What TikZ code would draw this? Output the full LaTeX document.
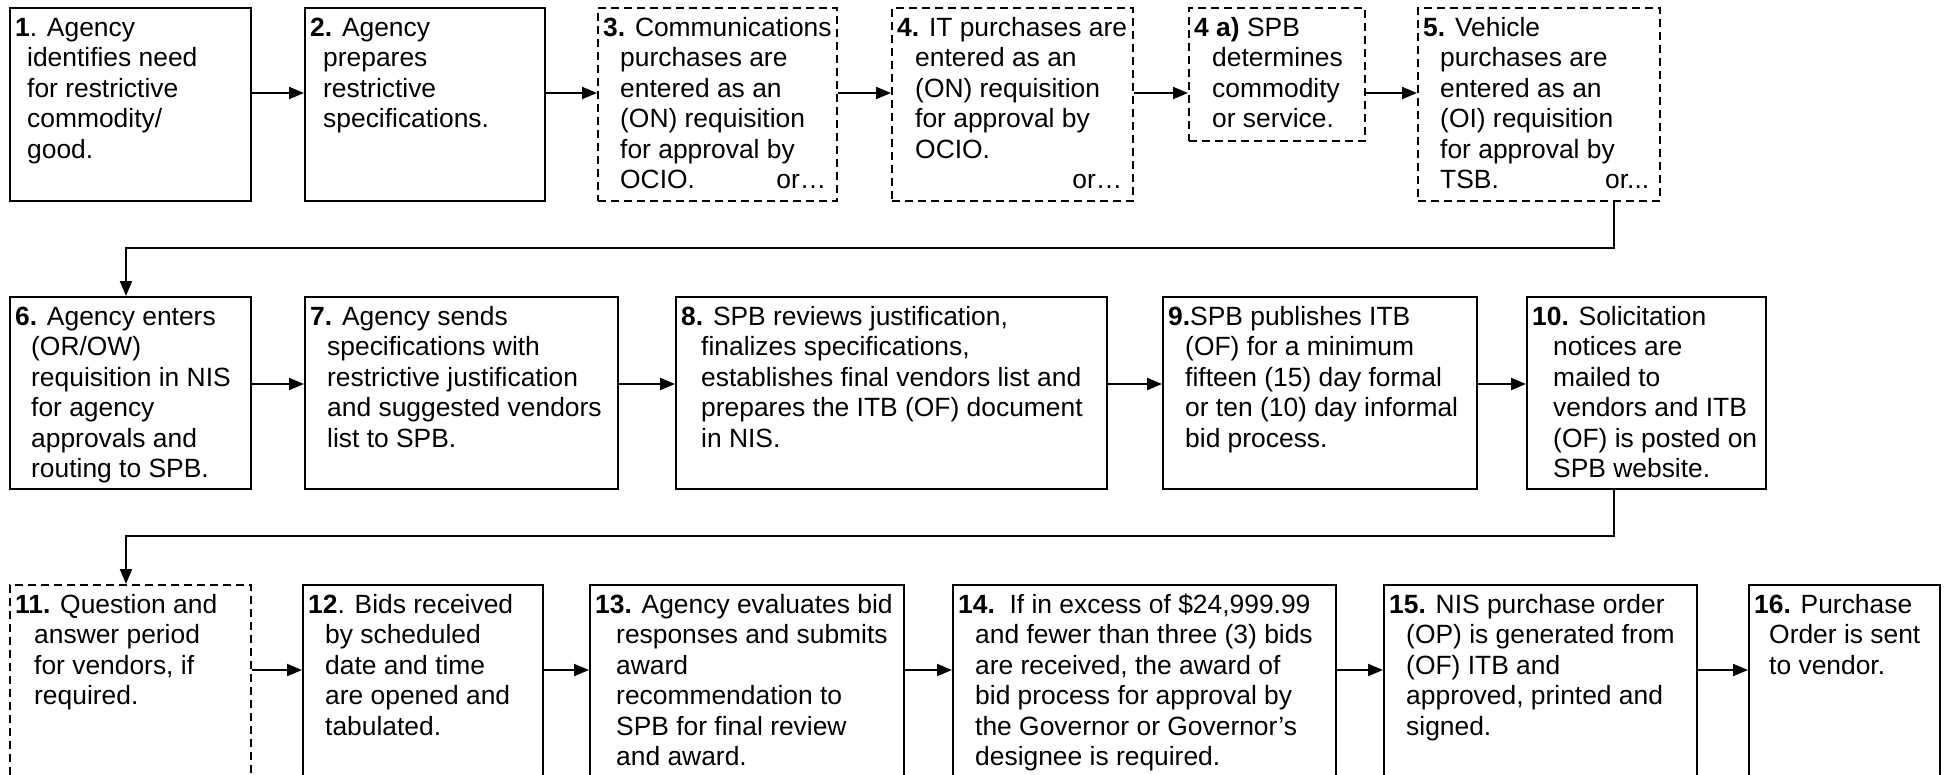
\documentclass[tikz,border=0pt]{standalone}
\usepackage{fontspec}
\setmainfont{Liberation Sans}
\usetikzlibrary{arrows.meta}
\tikzset{
  boxbase/.style={draw=black,line width=2.4pt,inner sep=0pt,fill=none},
  solidbox/.style={},
  dashbox/.style={line width=2pt,dash pattern=on 8pt off 5pt},
  txt/.style={inner sep=0pt,align=left,font=\fontsize{26.4}{30.5}\selectfont},
  arr/.style={line width=2pt,-{Triangle[length=15pt,width=12pt]}},
}
\newcommand\stepbox[8]{%
  \pgfmathsetmacro\bw{#4-#2}\pgfmathsetmacro\bh{#5-#3}\pgfmathsetmacro\tw{#4-#2-16}%
  \def\indw{#8}%
  \node[boxbase,#6,minimum width=\bw pt,minimum height=\bh pt,anchor=north west] (#1) at (#2,#3) {};
  \node[txt,anchor=north west] (#1t) at (#2+6,#3+7) {\rule{0pt}{22pt}#7};
}
\newcommand\ii{\hspace*{\indw pt}}
\newcommand\orline[1]{\ii\makebox[\dimexpr\tw pt-\indw pt\relax][s]{#1}}
\begin{document}
\begin{tikzpicture}[x=1pt,y=-1pt]
\clip (0,0) rectangle (1948,774);
% row 1
\stepbox{n1}{9}{7}{250}{200}{solidbox}{\textbf{1}. Agency\\\ii identifies need\\\ii for restrictive\\\ii commodity/\\\ii good.}{12}
\stepbox{n2}{304}{7}{544}{200}{solidbox}{\textbf{2.} Agency\\\ii prepares\\\ii restrictive\\\ii specifications.}{13}
\stepbox{n3}{597}{7}{836}{200}{dashbox}{\textbf{3.} Communications\\\ii purchases are\\\ii entered as an\\\ii (ON) requisition\\\ii for approval by\\\orline{OCIO.\hfill or…}}{17}
\stepbox{n4}{891}{7}{1132}{200}{dashbox}{\textbf{4.} IT purchases are\\\ii entered as an\\\ii (ON) requisition\\\ii for approval by\\\ii OCIO.\\\orline{\hfill or…}}{18}
\stepbox{n4a}{1188}{7}{1364}{140}{dashbox}{\textbf{4 a)} SPB\\\ii determines\\\ii commodity\\\ii or service.}{18}
\stepbox{n5}{1417}{7}{1659}{200}{dashbox}{\textbf{5.} Vehicle\\\ii purchases are\\\ii entered as an\\\ii (OI) requisition\\\ii for approval by\\\orline{TSB.\hfill or...}}{17}
% row 2
\stepbox{n6}{9}{296}{250}{488}{solidbox}{\textbf{6.} Agency enters\\\ii (OR/OW)\\\ii requisition in NIS\\\ii for agency\\\ii approvals and\\\ii routing to SPB.}{16}
\stepbox{n7}{304}{296}{617}{488}{solidbox}{\textbf{7.} Agency sends\\\ii specifications with\\\ii restrictive justification\\\ii and suggested vendors\\\ii list to SPB.}{17}
\stepbox{n8}{675}{296}{1106}{488}{solidbox}{\textbf{8.} SPB reviews justification,\\\ii finalizes specifications,\\\ii establishes final vendors list and\\\ii prepares the ITB (OF) document\\\ii in NIS.}{20}
\stepbox{n9}{1162}{296}{1476}{488}{solidbox}{\textbf{9.}SPB publishes ITB\\\ii (OF) for a minimum\\\ii fifteen (15) day formal\\\ii or ten (10) day informal\\\ii bid process.}{17}
\stepbox{n10}{1526}{296}{1765}{488}{solidbox}{\textbf{10.} Solicitation\\\ii notices are\\\ii mailed to\\\ii vendors and ITB\\\ii (OF) is posted on\\\ii SPB website.}{21}
% row 3
\stepbox{n11}{9}{584}{250}{778}{dashbox}{\textbf{11.} Question and\\\ii answer period\\\ii for vendors, if\\\ii required.}{19}
\stepbox{n12}{302}{584}{542}{778}{solidbox}{\textbf{12}. Bids received\\\ii by scheduled\\\ii date and time\\\ii are opened and\\\ii tabulated.}{17}
\stepbox{n13}{589}{584}{903}{778}{solidbox}{\textbf{13.} Agency evaluates bid\\\ii responses and submits\\\ii award\\\ii recommendation to\\\ii SPB for final review\\\ii and award.}{21}
\stepbox{n14}{952}{584}{1335}{778}{solidbox}{\textbf{14.}\ \ If in excess of \$24,999.99\\\ii and fewer than three (3) bids\\\ii are received, the award of\\\ii bid process for approval by\\\ii the Governor or Governor’s\\\ii designee is required.}{17}
\stepbox{n15}{1383}{584}{1696}{778}{solidbox}{\textbf{15.} NIS purchase order\\\ii (OP) is generated from\\\ii (OF) ITB and\\\ii approved, printed and\\\ii signed.}{17}
\stepbox{n16}{1748}{584}{1939}{778}{solidbox}{\textbf{16.} Purchase\\\ii Order is sent\\\ii to vendor.}{15}
% arrow levels
\coordinate (ya) at (0,93);
\coordinate (yb) at (0,384);
\coordinate (yc) at (0,670);
\draw[arr] (n1.east |- ya) -- (n2.west |- ya);
\draw[arr] (n2.east |- ya) -- (n3.west |- ya);
\draw[arr] (n3.east |- ya) -- (n4.west |- ya);
\draw[arr] (n4.east |- ya) -- (n4a.west |- ya);
\draw[arr] (n4a.east |- ya) -- (n5.west |- ya);
\draw[arr] (n6.east |- yb) -- (n7.west |- yb);
\draw[arr] (n7.east |- yb) -- (n8.west |- yb);
\draw[arr] (n8.east |- yb) -- (n9.west |- yb);
\draw[arr] (n9.east |- yb) -- (n10.west |- yb);
\draw[arr] (n11.east |- yc) -- (n12.west |- yc);
\draw[arr] (n12.east |- yc) -- (n13.west |- yc);
\draw[arr] (n13.east |- yc) -- (n14.west |- yc);
\draw[arr] (n14.east |- yc) -- (n15.west |- yc);
\draw[arr] (n15.east |- yc) -- (n16.west |- yc);
% wrap connectors
\coordinate (c1a) at (1614,248);
\coordinate (c1b) at (126,248);
\draw[arr] (n5.south -| c1a) -- (c1a) -- (c1b) -- (n6.north -| c1b);
\coordinate (c2a) at (1614,536);
\coordinate (c2b) at (126,536);
\draw[arr] (n10.south -| c2a) -- (c2a) -- (c2b) -- (n11.north -| c2b);
\end{tikzpicture}
\end{document}
